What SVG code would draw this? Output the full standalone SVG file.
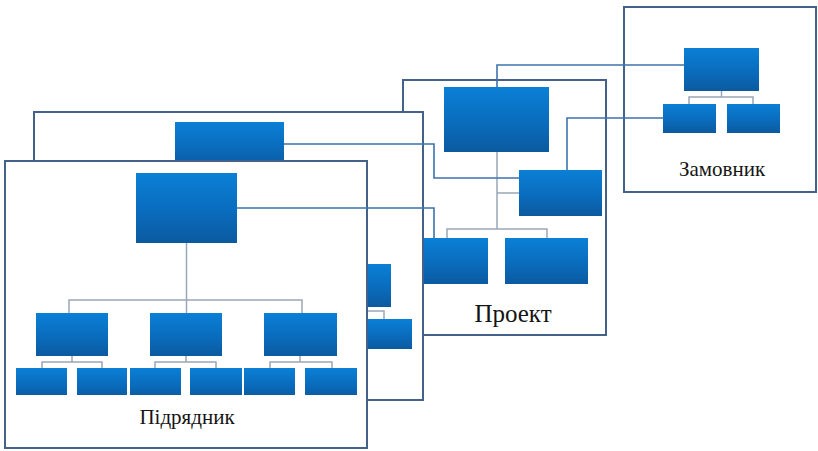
<svg xmlns="http://www.w3.org/2000/svg" width="818" height="451" viewBox="0 0 818 451">
  <defs>
    <linearGradient id="boxFill" x1="0" y1="0" x2="0" y2="1">
      <stop offset="0" stop-color="#0a80d6"/>
      <stop offset="0.55" stop-color="#0a6cbd"/>
      <stop offset="1" stop-color="#0b5a9f"/>
    </linearGradient>
  </defs>
  <style>
    .frame { fill: #ffffff; stroke: #42628a; stroke-width: 2; }
    .box { fill: url(#boxFill); }
    .org { fill: none; stroke: #9ba7b8; stroke-width: 1.5; }
    .link { fill: none; stroke: #3c74ad; stroke-width: 1.6; }
    .plate { fill: #ffffff; }
    .label { font-family: "Liberation Serif", "Times New Roman", serif; fill: #141414; text-anchor: middle; }
  </style>

  <!-- Project sheet (rear) -->
  <g id="proekt">
    <rect class="frame" x="403" y="80" width="203" height="255"/>
    <path class="org" d="M497 152 V229 M497 193 H519 M447 238 V229 H547 V238"/>
    <rect class="box" x="444" y="87" width="105" height="65"/>
    <rect class="box" x="519" y="170" width="83" height="46"/>
    <rect class="box" x="405" y="238" width="83" height="46"/>
    <rect class="box" x="505" y="238" width="83" height="46"/>
    <text class="label" x="513" y="322" font-size="25">Проект</text>
  </g>

  <!-- Middle sheet -->
  <g id="sheet-middle">
    <rect class="frame" x="34" y="112" width="389" height="288"/>
    <rect class="box" x="175" y="122" width="109" height="45"/>
    <path class="org" d="M355 307 V311 M330 311 H384 V319"/>
    <rect class="box" x="318" y="264" width="73" height="43"/>
    <rect class="box" x="357" y="319" width="55" height="30"/>
  </g>

  <!-- Subcontractor sheet (front) -->
  <g id="pidriadnyk">
    <rect class="frame" x="5" y="161" width="362" height="287"/>
    <path class="org" d="M186.5 243 V300 M69 313 V300 H302 V313 M186.5 300 V313
      M72 356 V362 M42 368 V362 H102 V368
      M186 356 V362 M155 368 V362 H216 V368
      M300 356 V362 M270 368 V362 H332 V368"/>
    <rect class="box" x="136" y="173" width="101" height="70"/>
    <rect class="box" x="36" y="313" width="72" height="43"/>
    <rect class="box" x="150" y="313" width="72" height="43"/>
    <rect class="box" x="264" y="313" width="73" height="43"/>
    <rect class="box" x="16" y="368" width="51" height="30"/>
    <rect class="box" x="77" y="368" width="50" height="30"/>
    <rect class="box" x="130" y="368" width="51" height="30"/>
    <rect class="box" x="190" y="368" width="52" height="30"/>
    <rect class="box" x="244" y="368" width="51" height="30"/>
    <rect class="box" x="305" y="368" width="52" height="30"/>
    <rect class="plate" x="15" y="395" width="348" height="48"/>
    <text class="label" x="187" y="424" font-size="21">Підрядник</text>
  </g>

  <!-- Customer sheet -->
  <g id="zamovnyk">
    <rect class="frame" x="624" y="7" width="192" height="185"/>
    <path class="org" d="M721.5 91 V97 M689 104 V97 H753 V104"/>
    <rect class="box" x="684" y="48" width="75" height="43"/>
    <rect class="box" x="663" y="104" width="53" height="29"/>
    <rect class="box" x="727" y="104" width="53" height="29"/>
    <rect class="plate" x="627" y="145" width="187" height="45"/>
    <text class="label" x="722" y="176" font-size="21">Замовник</text>
  </g>

  <!-- Links between the sheets -->
  <g id="connectors">
    <path class="link" d="M684 65 H497 V87"/>
    <path class="link" d="M663 118 H567 V170"/>
    <path class="link" d="M284 144 H434 V178 H519"/>
    <path class="link" d="M237 208 H434 V238"/>
  </g>
</svg>
